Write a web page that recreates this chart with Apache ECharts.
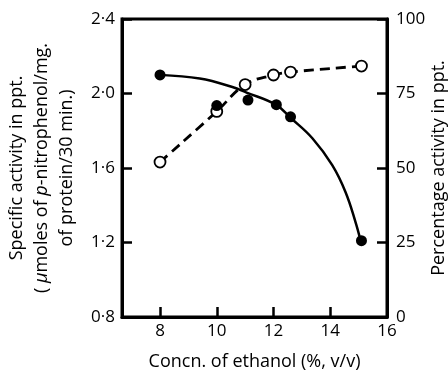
<!DOCTYPE html>
<html>
<head>
<meta charset="utf-8">
<script src="https://cdn.jsdelivr.net/npm/echarts@6/dist/echarts.min.js"></script>
<style>
  html, body { margin: 0; padding: 0; background: #fff; }
  #chart { width: 448px; height: 371px; }
</style>
</head>
<body>
<div id="chart"></div>
<script>
// ethanol concentration (%, v/v)
var xTicks = [8, 10, 12, 14, 16];
var leftTicks = [0.8, 1.2, 1.6, 2.0, 2.4];

// specific activity in ppt. (filled circles, left axis)
var specX = [8, 10, 11.1, 12.1, 12.6, 15.1];
var specY = [2.10, 1.935, 1.965, 1.94, 1.875, 1.21];

// fitted curve through the specific activity
var fitX = [8, 9.4, 10.55, 11.05, 12.08, 12.6, 13.37, 14.07, 14.54, 14.89, 15.07];
var fitY = [2.10, 2.08, 2.035, 2.005, 1.94, 1.87, 1.76, 1.615, 1.47, 1.31, 1.21];

// percentage activity in ppt. (open circles, right axis)
var pctX = [8, 10, 11, 12, 12.6, 15.1];
var pctY = [52, 69, 78, 81.2, 82.2, 84.2];

function zip(a, b) {
  var out = [];
  for (var i = 0; i < a.length; i++) out.push([a[i], b[i]]);
  return out;
}

var font = 'Open Sans';
var black = '#000';

var chart = echarts.init(document.getElementById('chart'));

var option = {
  backgroundColor: '#fff',
  animation: false,
  grid: {
    left: 122, right: 61, top: 19, bottom: 54,
    outerBoundsMode: 'none',
    containLabel: false,
    show: true, borderColor: black, borderWidth: 3
  },
  xAxis: {
    type: 'value',
    min: 6.66, max: 16,
    name: 'Concn. of ethanol (%, v/v)',
    nameLocation: 'middle',
    nameGap: 36,
    nameTextStyle: { fontFamily: font, fontSize: 18, color: black },
    axisLine: { lineStyle: { color: black, width: 3 } },
    axisTick: { inside: true, length: 10, lineStyle: { color: black, width: 2.5 }, customValues: xTicks },
    axisLabel: { fontFamily: font, fontSize: 17, color: black, margin: 6, customValues: xTicks },
    splitLine: { show: false }
  },
  yAxis: [{
    type: 'value',
    min: 0.8, max: 2.4, interval: 0.4,
    position: 'left',
    name: 'Specific activity in ppt.\n( {i|\u03bc}moles of {i|p}-nitrophenol/mg.\nof protein/30 min.)',
    nameLocation: 'middle',
    nameGap: 43,
    nameRotate: 90,
    nameMoveOverlap: false,
    nameTextStyle: {
      fontFamily: font, fontSize: 18, color: black, lineHeight: 25, align: 'center',
      rich: { i: { fontFamily: font, fontSize: 18, fontStyle: 'italic', color: black, lineHeight: 25 } }
    },
    axisLine: { show: true, lineStyle: { color: black, width: 3 } },
    axisTick: { inside: true, length: 10, lineStyle: { color: black, width: 2.5 } },
    axisLabel: {
      fontFamily: font, fontSize: 17, color: black, margin: 7,
      formatter: function (v) { return v.toFixed(1).replace('.', '\u00b7'); }
    },
    splitLine: { show: false }
  }, {
    type: 'value',
    min: 0, max: 100, interval: 25,
    position: 'right',
    name: 'Percentage activity in ppt.',
    nameLocation: 'middle',
    nameGap: 43,
    nameRotate: 90,
    nameMoveOverlap: false,
    nameTextStyle: { fontFamily: font, fontSize: 18, color: black },
    axisLine: { show: true, lineStyle: { color: black, width: 3 } },
    axisTick: { inside: true, length: 10, lineStyle: { color: black, width: 2.5 } },
    axisLabel: { fontFamily: font, fontSize: 17, color: black, margin: 9 },
    splitLine: { show: false }
  }],
  series: [{
    name: 'fit',
    type: 'line',
    yAxisIndex: 0,
    data: zip(fitX, fitY),
    smooth: 0.4,
    showSymbol: false,
    lineStyle: { color: black, width: 2.5 },
    z: 2
  }, {
    name: 'percentage',
    type: 'line',
    yAxisIndex: 1,
    data: zip(pctX, pctY),
    smooth: 0.4,
    symbol: 'circle',
    symbolSize: 11,
    itemStyle: { color: '#fff', borderColor: black, borderWidth: 1.8 },
    lineStyle: { color: black, width: 2.8, type: [10, 6] },
    z: 3
  }, {
    name: 'specific',
    type: 'scatter',
    yAxisIndex: 0,
    data: zip(specX, specY),
    symbol: 'circle',
    symbolSize: 11,
    itemStyle: { color: black, opacity: 1 },
    z: 4
  }]
};

chart.setOption(option);
</script>
</body>
</html>
